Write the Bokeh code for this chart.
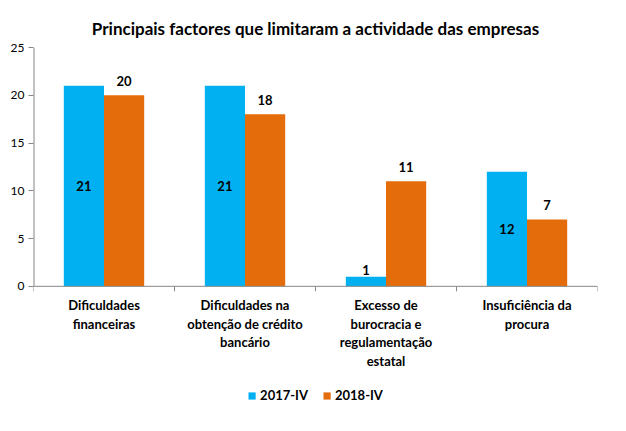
import math
from bokeh.plotting import figure
from bokeh.models import (Range1d, LinearAxis, FixedTicker, ColumnDataSource,
                          Legend, LegendItem, Label, Span)
from bokeh.transform import dodge
from bokeh.core.properties import value
from bokeh.embed import file_html
from bokeh.resources import INLINE

title_text = "Principais factores que limitaram a actividade das empresas"
categories = ["Dificuldades\nfinanceiras",
              "Dificuldades na\nobtenção de crédito\nbancário",
              "Excesso de\nburocracia e\nregulamentação\nestatal",
              "Insuficiência da\nprocura"]
series_names = ["2017-IV", "2018-IV"]
values_2017 = [21, 21, 1, 12]
values_2018 = [20, 18, 11, 7]
y_ticks = [0, 5, 10, 15, 20, 25]

BLUE = "#00B0F0"
ORANGE = "#E46C0A"
GREY = "#868686"
FONT = "Lato"
BAR_W = 0.285

n = len(categories)
centers = [i + 0.5 for i in range(n)]
sep_ticks = list(range(n + 1))

# blue labels centred in bar, or just above if bar too short
lab17_y = [v / 2 if v >= 5 else v for v in values_2017]
lab17_off = [0 if v >= 5 else -7 for v in values_2017]
src = ColumnDataSource(dict(
    pos=centers,
    v17=values_2017, v18=values_2018,
    t17=[str(v) for v in values_2017], t18=[str(v) for v in values_2018],
    ly17=lab17_y, lo17=lab17_off,
))

# frame extends below zero to hold category labels and legend
Y_MAX = y_ticks[-1]
Y_MIN = -13.0

p = figure(width=610, height=415, output_backend="svg", toolbar_location=None,
           x_range=Range1d(0, n), y_range=Range1d(Y_MIN, Y_MAX),
           x_axis_location=None, y_axis_location=None)

p.min_border_left = 33
p.min_border_right = 13
p.min_border_top = 47
p.min_border_bottom = 5
p.outline_line_color = None
p.xgrid.visible = False
p.ygrid.visible = False
p.background_fill_color = "white"
p.border_fill_color = "white"

p.title.text = title_text
p.title.align = "center"
p.title.text_font = FONT
p.title.text_font_size = "17px"
p.title.text_font_style = "bold"
p.title.text_color = "black"
p.title.offset = 0
p.title.standoff = 18

# y axis (ticks only 0..25, line drawn as segment)
yaxis = LinearAxis(ticker=FixedTicker(ticks=y_ticks))
yaxis.axis_line_color = None
yaxis.major_tick_line_color = GREY
yaxis.major_tick_out = 5
yaxis.major_tick_in = 0
yaxis.minor_tick_line_color = None
yaxis.major_label_text_font = FONT
yaxis.major_label_text_font_size = "12px"
yaxis.major_label_text_color = "black"
yaxis.major_label_standoff = 4
p.add_layout(yaxis, "left")
p.segment(x0=[0], y0=[y_ticks[0]], x1=[0], y1=[Y_MAX], line_color=GREY, line_width=2)

# x axis baseline and category boundary ticks
p.add_layout(Span(location=0, dimension="width", line_color=GREY, line_width=1))
p.ray(x=sep_ticks, y=[0] * len(sep_ticks), length=5, length_units="screen",
      angle=-math.pi / 2, line_color=GREY, line_width=1)

# category labels
for c, lab in zip(centers, categories):
    p.add_layout(Label(x=c, y=0, y_offset=-11, text=lab, text_align="center",
                       text_baseline="top", text_font=FONT, text_font_size="13px",
                       text_font_style="bold", text_color="black",
                       text_line_height=1.15))

r17 = p.vbar(x=dodge("pos", -BAR_W / 2), top="v17", bottom=0,
             width=BAR_W, source=src, fill_color=BLUE, line_color=None)
r18 = p.vbar(x=dodge("pos", BAR_W / 2), top="v18", bottom=0,
             width=BAR_W, source=src, fill_color=ORANGE, line_color=None)

p.text(x=dodge("pos", -BAR_W / 2), y="ly17", text="t17",
       y_offset="lo17", source=src, text_align="center", text_baseline="middle",
       text_font=value(FONT), text_font_size="13px", text_font_style="bold",
       text_color="black")
p.text(x=dodge("pos", BAR_W / 2), y="v18", text="t18",
       y_offset=-14, source=src, text_align="center", text_baseline="middle",
       text_font=value(FONT), text_font_size="13px", text_font_style="bold",
       text_color="black")

legend = Legend(items=[LegendItem(label=series_names[0], renderers=[r17]),
                       LegendItem(label=series_names[1], renderers=[r18])],
                orientation="horizontal", location="bottom_center")
legend.label_text_font = FONT
legend.label_text_font_size = "13px"
legend.label_text_font_style = "bold"
legend.label_text_color = "black"
legend.glyph_width = 9
legend.glyph_height = 9
legend.spacing = 14
legend.label_standoff = 4
legend.padding = 4
legend.margin = 7
legend.border_line_color = None
legend.background_fill_alpha = 0
p.add_layout(legend)

open("out.html", "w").write(file_html(p, INLINE))
